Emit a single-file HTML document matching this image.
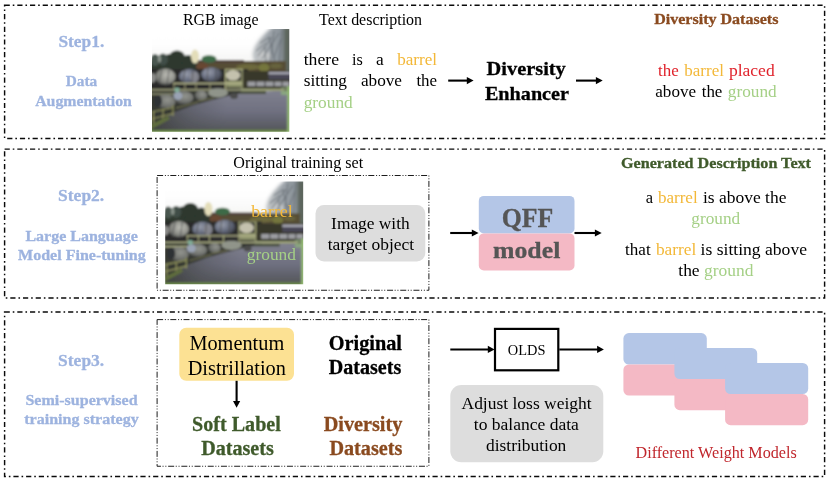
<!DOCTYPE html>
<html><head><meta charset="utf-8"><title>diagram</title>
<style>
html,body{margin:0;padding:0;background:#fff;}
body{width:830px;height:482px;overflow:hidden;font-family:"Liberation Serif",serif;}
svg{display:block;position:absolute;left:0;top:0;filter:blur(0.35px);}
text{font-family:"Liberation Serif",serif;white-space:pre;}
</style></head><body>
<svg width="830" height="482" viewBox="0 0 830 482">
<defs>
<filter id="bl" x="-5%" y="-5%" width="110%" height="110%"><feGaussianBlur stdDeviation="0.8"/></filter>
<filter id="bl2" x="-20%" y="-20%" width="140%" height="140%"><feGaussianBlur stdDeviation="1.4"/></filter>
<clipPath id="pc"><rect x="0" y="0" width="137.3" height="102.7"/></clipPath>
<linearGradient id="sky" x1="0" y1="0" x2="0" y2="1"><stop offset="0" stop-color="#ffffff"/><stop offset="0.35" stop-color="#fefefe"/><stop offset="0.6" stop-color="#f8f8f7"/><stop offset="1" stop-color="#f0f1ef"/></linearGradient>
<linearGradient id="gnd" x1="0" y1="0" x2="0" y2="1"><stop offset="0" stop-color="#80818f"/><stop offset="0.5" stop-color="#6f7080"/><stop offset="0.85" stop-color="#5a5c63"/><stop offset="1" stop-color="#55594f"/></linearGradient>
<linearGradient id="gndl" x1="0" y1="0" x2="1" y2="0"><stop offset="0" stop-color="#3a3c39" stop-opacity="0.9"/><stop offset="0.3" stop-color="#4c4e52" stop-opacity="0.4"/><stop offset="0.55" stop-color="#55565e" stop-opacity="0"/></linearGradient>
<radialGradient id="brl" cx="0.6" cy="0.4" r="0.75"><stop offset="0" stop-color="#bdbdb6"/><stop offset="0.55" stop-color="#8f908a"/><stop offset="1" stop-color="#464746"/></radialGradient>
<radialGradient id="brlb" cx="0.35" cy="0.35" r="0.8"><stop offset="0" stop-color="#989dab"/><stop offset="0.5" stop-color="#686e80"/><stop offset="1" stop-color="#33353d"/></radialGradient>
<radialGradient id="brl2" cx="0.6" cy="0.4" r="0.75"><stop offset="0" stop-color="#93958f"/><stop offset="0.6" stop-color="#6e706c"/><stop offset="1" stop-color="#323333"/></radialGradient>
<linearGradient id="treeg" x1="0" y1="0" x2="1" y2="0"><stop offset="0" stop-color="#c0c4c6"/><stop offset="0.45" stop-color="#9aa1a7"/><stop offset="1" stop-color="#7b848a"/></linearGradient>
<g id="photo">
<g clip-path="url(#pc)">
<g filter="url(#bl)">
<rect x="-3" y="-3" width="143" height="52" fill="url(#sky)"/>
<!-- bare tree top-right -->
<g filter="url(#bl2)">
<path d="M121,-3 L113,4.5 L107,11 L102.5,18 L100.5,25 L102,33 L140,36 L140,-3 Z" fill="url(#treeg)"/>
<ellipse cx="112" cy="27" rx="7" ry="5" fill="#c2c5c6"/>
<rect x="131.5" y="-2" width="9" height="50" fill="#5c655c"/>
</g>
<path d="M118,36 L122,2 M124,38 L117,8 M110,30 L127,4 M127,36 L130,1 M106,27 L120,8 M121,30 L129,10 M114,38 L113,18 M104,22 L114,14 M108,14 L118,8" stroke="#5f666c" stroke-width="1" fill="none" opacity="0.75"/>
<!-- brown hedge / pergola -->
<rect x="44" y="32" width="90" height="15" fill="#564e36"/>
<rect x="44" y="31" width="48" height="3" fill="#51433a"/>
<ellipse cx="96" cy="38" rx="12" ry="3" fill="#6d693c"/>
<ellipse cx="112" cy="38.5" rx="5.5" ry="4" fill="#74763c"/>
<ellipse cx="124" cy="37" rx="6" ry="2.5" fill="#68643c"/>
<!-- dark trees left -->
<g fill="#2d392f">
<rect x="-2" y="32" width="47" height="17"/>
<ellipse cx="25" cy="28.5" rx="8" ry="7"/>
<ellipse cx="36" cy="32" rx="6" ry="6"/>
<ellipse cx="17" cy="31" rx="5" ry="6"/>
</g>
<ellipse cx="3" cy="31" rx="4.5" ry="6" fill="#4a574f"/>
<ellipse cx="11" cy="30.5" rx="5" ry="6" fill="#414e46"/>
<ellipse cx="7.5" cy="30" rx="1.6" ry="3.5" fill="#8a948c"/>
<!-- yellowish tree and green bush -->
<ellipse cx="43" cy="27.5" rx="4" ry="7" fill="#e3ddb9"/>
<ellipse cx="57" cy="30" rx="7.5" ry="3.8" fill="#3d6a47"/>
<ellipse cx="50" cy="37.5" rx="6" ry="4" fill="#684733"/>
<!-- dark band behind barrels -->
<rect x="-2" y="40" width="98" height="23" fill="#2a2b29"/>
<rect x="90" y="42" width="50" height="20" fill="#38392b"/>
<!-- top row barrels -->
<ellipse cx="13.3" cy="47.6" rx="10.3" ry="8" fill="url(#brl)"/>
<ellipse cx="0.5" cy="49" rx="3.2" ry="5" fill="#8b8b89"/>
<ellipse cx="37.3" cy="47.4" rx="10.3" ry="7.3" fill="url(#brlb)"/>
<ellipse cx="59.5" cy="45.5" rx="10.3" ry="7.3" fill="url(#brlb)"/>
<ellipse cx="42.5" cy="48" rx="4.5" ry="5.5" fill="#8e8f96" opacity="0.8"/>
<ellipse cx="81" cy="46.3" rx="7.3" ry="5.3" fill="#c4c1ad"/>
<path d="M10,40 L7,55 M17,40.5 L15,55.5 M33,41 L31,54 M41,41 L40,54.5 M56,39 L55,52 M64,39 L63.5,52.5" stroke="#4e4f50" stroke-width="0.9" fill="none"/>
<!-- pergola posts (pale yellow-green) -->
<path d="M73.5,40 V60 M90,40 V60 M73,40.5 H91" stroke="#b0b382" stroke-width="1.2" fill="none"/>
<!-- right far barrels -->
<rect x="116.5" y="43" width="22" height="2.6" fill="#a6a6b2"/>
<rect x="116.5" y="45.6" width="22" height="5" fill="#484657"/>
<rect x="95.5" y="52.5" width="42" height="4.8" fill="#9c9da2"/>
<rect x="74.5" y="51.5" width="15.5" height="7" fill="#8b906b"/>
<path d="M104,51 V58.5 M113,51 V58.5 M122,51 V58.5 M130,51 V58.5" stroke="#3a3b3a" stroke-width="1" fill="none"/>
<!-- ground -->
<path d="M-2,104 L-2,96 L20,82 L42,74 L60,69 L86,63 L140,61.5 L140,104 Z" fill="url(#gnd)"/>
<path d="M-2,104 L-2,96 L20,82 L42,74 L60,69 L86,63 L140,61.5 L140,104 Z" fill="url(#gndl)"/>
<rect x="74" y="61.8" width="40" height="3.2" fill="#4d5244"/>
<!-- right grass -->
<rect x="129" y="58.5" width="12" height="7.5" fill="#8aa680"/>
<rect x="86" y="59.5" width="52" height="2.5" fill="#6b7459"/>
<!-- lower-left dark (pallets/shadow) -->
<path d="M-2,60 L90,60 L88,64 L60,71 L42,76 L20,84 L-2,98 Z" fill="#363732"/>
<!-- fence rails -->
<path d="M-2,60.8 H132" stroke="#b3b68c" stroke-width="1.2" fill="none"/>
<path d="M-2,65 H24 M21,54.3 H90" stroke="#c0c296" stroke-width="1.2" fill="none" opacity="0.95"/>
<path d="M22,54 V60 M44,54 V60 M33,54 V60 M58,54 V60" stroke="#b3b688" stroke-width="1" fill="none" opacity="0.9"/>
<!-- bottom row barrels -->
<ellipse cx="13.3" cy="72.4" rx="10.3" ry="7.2" fill="url(#brl2)"/>
<ellipse cx="6" cy="72" rx="4" ry="6" fill="#2d3034"/>
<ellipse cx="31.5" cy="68.6" rx="10" ry="6.5" fill="url(#brl2)"/>
<ellipse cx="26" cy="66.8" rx="4.5" ry="4" fill="#9aa3b4"/>
<ellipse cx="25" cy="61" rx="2.6" ry="2.4" fill="#82ad98"/>
<ellipse cx="49" cy="66.4" rx="6.3" ry="5.2" fill="url(#brl2)"/>
<ellipse cx="66" cy="63.8" rx="10" ry="4.6" fill="#90948a"/>
<ellipse cx="82" cy="67" rx="4" ry="3" fill="#4b4c4b"/>
<!-- pallets bottom-left (yellow-green) -->
<path d="M0,83 L21,78.5 M0,90 L21,84.5 M21,76 V87 M11,80 V90 M1.5,82 V96 " stroke="#94975f" stroke-width="1.2" fill="none"/>
<path d="M24,79 L46,73 M46,72 L62,69" stroke="#7a7c58" stroke-width="1.4" fill="none" opacity="0.7"/>
<path d="M-2,96 L16,87 L18,90 L-2,101 Z" fill="#5f6d3e"/>
<!-- bottom + right green strips -->
<rect x="-2" y="101" width="142" height="4" fill="#6a8946"/>
<rect x="135.3" y="57" width="4" height="48" fill="#93b873"/>
</g>
</g>
</g>

</defs>
<g fill="none" stroke="#0a0a0a" stroke-width="1.45" stroke-dasharray="5.2 2.95 1.6 2.95">
<rect x="4.6" y="5.3" width="820.0" height="133.1"/>
<rect x="4.6" y="149.1" width="820.0" height="148.9"/>
<rect x="4.6" y="311.9" width="820.0" height="164.7"/>
</g>
<g fill="none" stroke="#1c1c1c" stroke-width="1.0" stroke-dasharray="6 1.8 1 1.8 1 1.6">
<rect x="157.1" y="175.5" width="271.8" height="114.75"/>
<rect x="157.1" y="319.6" width="271.8" height="146.65"/>
</g>
<g id="photos">
<use href="#photo" x="152" y="29"/><use href="#photo" transform="translate(165.2,181.4) scale(1.005,1.002)"/>
</g>
<g id="shapes">
<rect id="gray2" x="315.5" y="205" width="109.8" height="56.4" rx="8.5" fill="#dddddd"/>
<rect id="blue2" x="478.8" y="195.9" width="95.7" height="37.5" rx="5" fill="#b4c6e7"/>
<rect id="pink2" x="478.8" y="233.4" width="95.7" height="37" rx="5" fill="#f4b9c5"/>
<rect id="yel3" x="179.3" y="327.8" width="114.7" height="53" rx="7" fill="#fce193"/>
<rect id="gray3" x="450.3" y="385.1" width="153" height="77.1" rx="11" fill="#dddddd"/>
<rect id="olds" x="495" y="328.9" width="63.3" height="41.4" fill="#fff" stroke="#000" stroke-width="2.2"/>
<rect x="623.4" y="333.1" width="83.4" height="31.4" rx="5.5" fill="#b4c6e7"/>
<rect x="623.4" y="364.5" width="83.4" height="31.1" rx="5.5" fill="#f4b9c5"/>
<rect x="674.4" y="348" width="82.8" height="31.1" rx="5.5" fill="#b4c6e7"/>
<rect x="674.4" y="379.1" width="82.8" height="31.1" rx="5.5" fill="#f4b9c5"/>
<rect x="725.1" y="362.9" width="83.1" height="31.1" rx="5.5" fill="#b4c6e7"/>
<rect x="725.1" y="394" width="83.1" height="31.2" rx="5.5" fill="#f4b9c5"/>
</g>
<g id="arrows">
<line x1="448.2" y1="80.6" x2="467.8" y2="80.6" stroke="#000" stroke-width="2.1"/><path d="M473.6,80.6 L466.8,84.2 L466.8,77.0 Z" fill="#000"/>
<line x1="576.0" y1="80.6" x2="596.9" y2="80.6" stroke="#000" stroke-width="2.1"/><path d="M602.7,80.6 L595.9,84.2 L595.9,77.0 Z" fill="#000"/>
<line x1="450.2" y1="233.0" x2="472.8" y2="233.0" stroke="#000" stroke-width="2.1"/><path d="M478.6,233.0 L471.8,236.6 L471.8,229.4 Z" fill="#000"/>
<line x1="574.5" y1="233.0" x2="595.9" y2="233.0" stroke="#000" stroke-width="2.1"/><path d="M601.7,233.0 L594.9,236.6 L594.9,229.4 Z" fill="#000"/>
<line x1="450.3" y1="349.4" x2="488.8" y2="349.4" stroke="#000" stroke-width="2.0"/><path d="M494.6,349.4 L487.8,353.0 L487.8,345.8 Z" fill="#000"/>
<line x1="559.3" y1="349.4" x2="598.1" y2="349.4" stroke="#000" stroke-width="2.0"/><path d="M603.9,349.4 L597.1,353.0 L597.1,345.8 Z" fill="#000"/>
<line x1="236.6" y1="380.8" x2="236.6" y2="402.0" stroke="#000" stroke-width="2.1"/><path d="M236.6,407.8 L233.0,401.0 L240.2,401.0 Z" fill="#000"/>
</g>
<g id="texts" opacity="0.999">
<text id="t_step1" x="58.4" y="47.3" font-size="17.5" textLength="45.9" lengthAdjust="spacingAndGlyphs" fill="#9db3df" font-weight="bold" stroke="#9db3df" stroke-width="0.3">Step1.</text>
<text id="t_data" x="65.7" y="86.1" font-size="15.5" textLength="31.5" lengthAdjust="spacingAndGlyphs" fill="#9db3df" font-weight="bold" stroke="#9db3df" stroke-width="0.3">Data</text>
<text id="t_aug" x="35.2" y="105.8" font-size="15.5" textLength="96.7" lengthAdjust="spacingAndGlyphs" fill="#9db3df" font-weight="bold" stroke="#9db3df" stroke-width="0.3">Augmentation</text>
<text id="t_rgb" x="183.0" y="24.7" font-size="15.8" textLength="75.5" lengthAdjust="spacingAndGlyphs" fill="#000">RGB image</text>
<text id="t_td" x="319.0" y="24.8" font-size="15.8" textLength="103.1" lengthAdjust="spacingAndGlyphs" fill="#000">Text description</text>
<text id="t_l1a" x="303.7" y="64.7" font-size="17" textLength="35.3" lengthAdjust="spacingAndGlyphs" fill="#000">there</text>
<text id="t_l1b" x="352.1" y="64.7" font-size="17" textLength="10.8" lengthAdjust="spacingAndGlyphs" fill="#000">is</text>
<text id="t_l1c" x="376.0" y="64.7" font-size="17" textLength="7.7" lengthAdjust="spacingAndGlyphs" fill="#000">a</text>
<text id="t_l1d" x="397.2" y="64.7" font-size="17" textLength="39.9" lengthAdjust="spacingAndGlyphs" fill="#f3b838">barrel</text>
<text id="t_l2a" x="303.7" y="86.3" font-size="17" textLength="43.3" lengthAdjust="spacingAndGlyphs" fill="#000">sitting</text>
<text id="t_l2b" x="360.9" y="86.3" font-size="17" textLength="41.1" lengthAdjust="spacingAndGlyphs" fill="#000">above</text>
<text id="t_l2c" x="416.4" y="86.3" font-size="17" textLength="20.7" lengthAdjust="spacingAndGlyphs" fill="#000">the</text>
<text id="t_l3" x="303.7" y="107.5" font-size="17" textLength="49.1" lengthAdjust="spacingAndGlyphs" fill="#a5d086">ground</text>
<text id="t_div" x="486.6" y="75.1" font-size="19.5" textLength="79.2" lengthAdjust="spacingAndGlyphs" fill="#000" font-weight="bold" stroke="#000" stroke-width="0.3">Diversity</text>
<text id="t_enh" x="484.9" y="99.6" font-size="19.5" textLength="84.1" lengthAdjust="spacingAndGlyphs" fill="#000" font-weight="bold" stroke="#000" stroke-width="0.3">Enhancer</text>
<text id="t_dd" x="654.2" y="24.2" font-size="15.5" textLength="124.2" lengthAdjust="spacingAndGlyphs" fill="#8a4a1f" font-weight="bold" stroke="#8a4a1f" stroke-width="0.3">Diversity Datasets</text>
<text id="t_r1a" x="658.1" y="76.1" font-size="17" textLength="20.7" lengthAdjust="spacingAndGlyphs" fill="#e0232c">the</text>
<text id="t_r1b" x="684.3" y="76.1" font-size="17" textLength="39.6" lengthAdjust="spacingAndGlyphs" fill="#f3b838">barrel</text>
<text id="t_r1c" x="728.9" y="76.1" font-size="17" textLength="45.8" lengthAdjust="spacingAndGlyphs" fill="#e0232c">placed</text>
<text id="t_r2a" x="655.3" y="97.0" font-size="17" textLength="40.7" lengthAdjust="spacingAndGlyphs" fill="#000">above</text>
<text id="t_r2b" x="701.7" y="97.0" font-size="17" textLength="20.7" lengthAdjust="spacingAndGlyphs" fill="#000">the</text>
<text id="t_r2c" x="727.8" y="97.0" font-size="17" textLength="48.9" lengthAdjust="spacingAndGlyphs" fill="#a5d086">ground</text>
<text id="t_step2" x="58.1" y="201.1" font-size="17.5" textLength="46.1" lengthAdjust="spacingAndGlyphs" fill="#9db3df" font-weight="bold" stroke="#9db3df" stroke-width="0.3">Step2.</text>
<text id="t_ll" x="25.4" y="241.0" font-size="15.5" textLength="112.4" lengthAdjust="spacingAndGlyphs" fill="#9db3df" font-weight="bold" stroke="#9db3df" stroke-width="0.3">Large Language</text>
<text id="t_mf" x="18.0" y="259.6" font-size="15.5" textLength="127.8" lengthAdjust="spacingAndGlyphs" fill="#9db3df" font-weight="bold" stroke="#9db3df" stroke-width="0.3">Model Fine-tuning</text>
<text id="t_ots" x="233.3" y="167.5" font-size="15.8" textLength="129.9" lengthAdjust="spacingAndGlyphs" fill="#000">Original training set</text>
<text id="t_pb" x="251.2" y="216.8" font-size="17" textLength="41.5" lengthAdjust="spacingAndGlyphs" fill="#f3b838">barrel</text>
<text id="t_pg" x="246.8" y="259.6" font-size="17" textLength="49.2" lengthAdjust="spacingAndGlyphs" fill="#a5d086">ground</text>
<text id="t_iw" x="331.1" y="229.3" font-size="17" textLength="78.6" lengthAdjust="spacingAndGlyphs" fill="#000">Image with</text>
<text id="t_to" x="327.7" y="250.2" font-size="17" textLength="86.4" lengthAdjust="spacingAndGlyphs" fill="#000">target object</text>
<text id="t_qff" x="501.7" y="227.2" font-size="26.5" textLength="51.6" lengthAdjust="spacingAndGlyphs" fill="#555" font-weight="bold" stroke="#555" stroke-width="0.3">QFF</text>
<text id="t_model" x="493.0" y="258.0" font-size="23.8" textLength="67.3" lengthAdjust="spacingAndGlyphs" fill="#555" font-weight="bold" stroke="#555" stroke-width="0.3">model</text>
<text id="t_gdt" x="621.0" y="168.0" font-size="15.5" textLength="190.0" lengthAdjust="spacingAndGlyphs" fill="#3f5a2b" font-weight="bold" stroke="#3f5a2b" stroke-width="0.3">Generated Description Text</text>
<text id="t_g1a" x="645.7" y="202.9" font-size="17" textLength="7.3" lengthAdjust="spacingAndGlyphs" fill="#000">a</text>
<text id="t_g1b" x="657.9" y="202.9" font-size="17" textLength="39.8" lengthAdjust="spacingAndGlyphs" fill="#f3b838">barrel</text>
<text id="t_g1c" x="703.0" y="202.9" font-size="17" textLength="83.4" lengthAdjust="spacingAndGlyphs" fill="#000">is above the</text>
<text id="t_g2" x="691.3" y="223.5" font-size="17" textLength="48.9" lengthAdjust="spacingAndGlyphs" fill="#a5d086">ground</text>
<text id="t_g3a" x="625.1" y="254.6" font-size="17" textLength="25.6" lengthAdjust="spacingAndGlyphs" fill="#000">that</text>
<text id="t_g3b" x="655.9" y="254.6" font-size="17" textLength="40.4" lengthAdjust="spacingAndGlyphs" fill="#f3b838">barrel</text>
<text id="t_g3c" x="700.6" y="254.6" font-size="17" textLength="106.4" lengthAdjust="spacingAndGlyphs" fill="#000">is sitting above</text>
<text id="t_g4a" x="678.3" y="275.5" font-size="17" textLength="21.3" lengthAdjust="spacingAndGlyphs" fill="#000">the</text>
<text id="t_g4b" x="704.1" y="275.5" font-size="17" textLength="49.4" lengthAdjust="spacingAndGlyphs" fill="#a5d086">ground</text>
<text id="t_step3" x="58.1" y="366.1" font-size="17.5" textLength="46.1" lengthAdjust="spacingAndGlyphs" fill="#9db3df" font-weight="bold" stroke="#9db3df" stroke-width="0.3">Step3.</text>
<text id="t_ss" x="25.4" y="404.7" font-size="15.5" textLength="112.2" lengthAdjust="spacingAndGlyphs" fill="#9db3df" font-weight="bold" stroke="#9db3df" stroke-width="0.3">Semi-supervised</text>
<text id="t_ts" x="24.2" y="424.2" font-size="15.5" textLength="114.6" lengthAdjust="spacingAndGlyphs" fill="#9db3df" font-weight="bold" stroke="#9db3df" stroke-width="0.3">training strategy</text>
<text id="t_mom" x="189.4" y="349.7" font-size="20" textLength="94.8" lengthAdjust="spacingAndGlyphs" fill="#000">Momentum</text>
<text id="t_dis" x="187.7" y="374.7" font-size="20" textLength="98.2" lengthAdjust="spacingAndGlyphs" fill="#000">Distrillation</text>
<text id="t_ori" x="328.8" y="349.7" font-size="20" textLength="73.2" lengthAdjust="spacingAndGlyphs" fill="#000" font-weight="bold" stroke="#000" stroke-width="0.3">Original</text>
<text id="t_ods" x="328.8" y="374.4" font-size="20" textLength="72.5" lengthAdjust="spacingAndGlyphs" fill="#000" font-weight="bold" stroke="#000" stroke-width="0.3">Datasets</text>
<text id="t_sl" x="192.1" y="430.7" font-size="20" textLength="88.7" lengthAdjust="spacingAndGlyphs" fill="#3f5a2b" font-weight="bold" stroke="#3f5a2b" stroke-width="0.3">Soft Label</text>
<text id="t_sds" x="201.2" y="455.3" font-size="20" textLength="72.6" lengthAdjust="spacingAndGlyphs" fill="#3f5a2b" font-weight="bold" stroke="#3f5a2b" stroke-width="0.3">Datasets</text>
<text id="t_dv" x="323.7" y="430.7" font-size="20" textLength="78.6" lengthAdjust="spacingAndGlyphs" fill="#8a4a1f" font-weight="bold" stroke="#8a4a1f" stroke-width="0.3">Diversity</text>
<text id="t_dds" x="329.4" y="455.3" font-size="20" textLength="72.9" lengthAdjust="spacingAndGlyphs" fill="#8a4a1f" font-weight="bold" stroke="#8a4a1f" stroke-width="0.3">Datasets</text>
<text id="t_olds" x="507.8" y="355.2" font-size="14.5" textLength="37.6" lengthAdjust="spacingAndGlyphs" fill="#000">OLDS</text>
<text id="t_al" x="461.5" y="408.9" font-size="17" textLength="130.2" lengthAdjust="spacingAndGlyphs" fill="#000">Adjust loss weight</text>
<text id="t_tb" x="473.8" y="429.8" font-size="17" textLength="105.1" lengthAdjust="spacingAndGlyphs" fill="#000">to balance data</text>
<text id="t_db" x="486.0" y="450.6" font-size="17" textLength="80.3" lengthAdjust="spacingAndGlyphs" fill="#000">distribution</text>
<text id="t_dwm" x="635.5" y="457.5" font-size="16.5" textLength="161.2" lengthAdjust="spacingAndGlyphs" fill="#c0262c">Different Weight Models</text>
</g>
</svg>
</body></html>
